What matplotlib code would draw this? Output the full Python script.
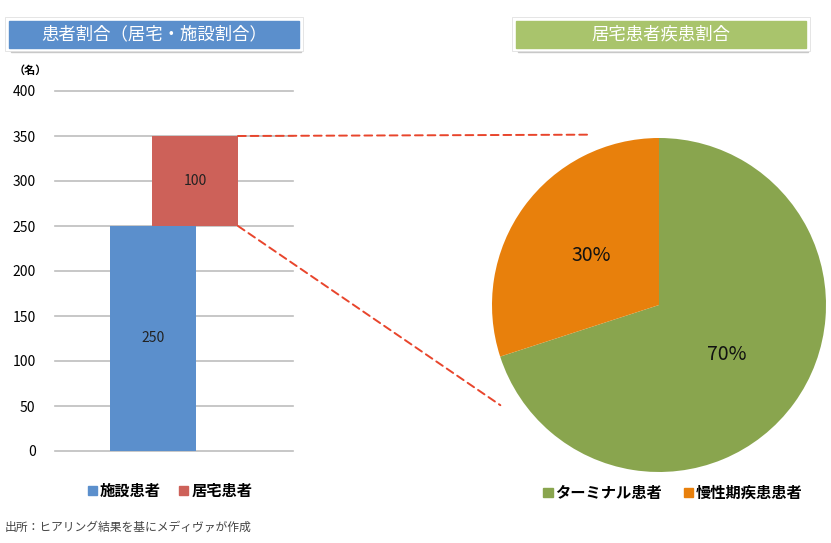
import matplotlib.pyplot as plt
from matplotlib.patches import Rectangle, ConnectionPatch, Patch

plt.rcParams['font.family'] = ['Noto Sans CJK JP', 'DejaVu Sans']

# data
bar_names = ['施設患者', '居宅患者']
bar_values = [250, 100]
bar_colors = ['#5b8fcc', '#cd6159']
pie_names = ['ターミナル患者', '慢性期疾患患者']
pie_values = [70, 30]
pie_colors = ['#89a54e', '#e8800c']
yticks = [0, 50, 100, 150, 200, 250, 300, 350, 400]

W, H = 831, 543
fig = plt.figure(figsize=(W / 100, H / 100), dpi=100)


def fx(px):
    return px / W


def fy(py):
    return 1 - py / H


# title boxes with a soft shadow
def title_box(x0, x1, y0, y1, color, text):
    fig.patches.append(Rectangle((fx(x0 + 2), fy(y1 + 4)), fx(x1 - x0), (y1 - y0) / H,
                                 transform=fig.transFigure, color='#c8c8c8', zorder=0))
    fig.patches.append(Rectangle((fx(x0 - 4), fy(y1 + 3)), fx(x1 - x0 + 8), (y1 - y0 + 7) / H,
                                 transform=fig.transFigure, color='white', ec='#e0e0e0', lw=0.6, zorder=1))
    fig.patches.append(Rectangle((fx(x0), fy(y1)), fx(x1 - x0), (y1 - y0) / H,
                                 transform=fig.transFigure, color=color, zorder=2))
    fig.text(fx((x0 + x1) / 2), fy((y0 + y1) / 2), text, color='white', fontsize=12.5,
             ha='center', va='center', zorder=3)


title_box(9, 299, 21, 48, '#5b8fcc', '患者割合（居宅・施設割合）')
title_box(516, 806, 21, 48, '#a9c46c', '居宅患者疾患割合')

# bar chart (second bar sits on top of the first)
ax = fig.add_axes([fx(55), fy(451), fx(238), 360 / H])
pos = [0, 0.49]
bottoms = [0, bar_values[0]]
for p, v, b, c in zip(pos, bar_values, bottoms, bar_colors):
    ax.bar(p, v, bottom=b, width=1, color=c, zorder=2)
    ax.text(p, b + v / 2, str(v), ha='center', va='center', fontsize=10, color='#222222', zorder=3)
ax.set_xlim(-1.14, 1.63)
ax.set_ylim(0, 400)
ax.set_yticks(yticks)
ax.yaxis.grid(True, color='#bdbdbd', lw=1.2)
for gl in ax.get_ygridlines():
    gl.set_clip_on(False)
ax.set_axisbelow(True)
ax.set_xticks([])
for s in ax.spines.values():
    s.set_visible(False)
ax.tick_params(axis='y', length=0, labelsize=10, pad=14)
fig.text(fx(14), fy(70), '（名）', fontsize=8, fontweight='bold', ha='left', va='center')

fig.legend([Patch(color=c) for c in bar_colors], bar_names, loc='center',
           bbox_to_anchor=(fx(170), fy(491)), ncol=2, frameon=False,
           handlelength=0.6, handleheight=0.6, handletextpad=0.2, columnspacing=1.2,
           prop={'weight': 'bold', 'size': 11})

# pie chart
r = 167
pax = fig.add_axes([fx(659 - r), fy(305 + r), fx(2 * r), 2 * r / H])
pax.pie(pie_values, colors=pie_colors, startangle=90, counterclock=False,
        autopct='%d%%', pctdistance=0.5, radius=1,
        textprops={'fontsize': 14, 'color': '#111111'})
pax.set_xlim(-1, 1)
pax.set_ylim(-1, 1)
pax.set_aspect('auto')

fig.legend([Patch(color=c) for c in pie_colors], pie_names, loc='center',
           bbox_to_anchor=(fx(673), fy(493)), ncol=2, frameon=False,
           handlelength=0.6, handleheight=0.6, handletextpad=0.2, columnspacing=1.4,
           prop={'weight': 'bold', 'size': 11})

# dashed connectors from the 居宅 bar to the pie
right = pos[1] + 0.5
for yv, end in [(bottoms[1] + bar_values[1], (-0.41, 1.02)), (bottoms[1], (-0.95, -0.60))]:
    con = ConnectionPatch(xyA=(right, yv), coordsA=ax.transData,
                          xyB=end, coordsB=pax.transData,
                          color='#e8452c', lw=1.4, ls=(0, (4, 2.5)))
    fig.add_artist(con)

fig.text(fx(5), fy(527), '出所：ヒアリング結果を基にメディヴァが作成', fontsize=8.5,
         color='#444444', ha='left', va='center')

fig.savefig('out.png', dpi=100)
